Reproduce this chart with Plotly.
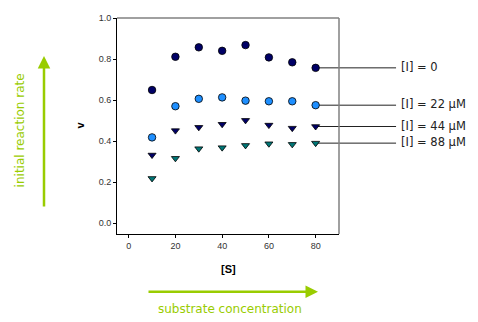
import plotly.graph_objects as go

S = [10, 20, 30, 40, 50, 60, 70, 80]
v_I0 = [0.649, 0.811, 0.857, 0.840, 0.868, 0.808, 0.784, 0.757]
v_I22 = [0.418, 0.570, 0.606, 0.613, 0.597, 0.594, 0.594, 0.575]
v_I44 = [0.332, 0.451, 0.467, 0.482, 0.501, 0.478, 0.463, 0.471]
v_I88 = [0.218, 0.316, 0.363, 0.368, 0.379, 0.387, 0.384, 0.390]
labels = ["[I] = 0", "[I] = 22 \u03bcM", "[I] = 44 \u03bcM", "[I] = 88 \u03bcM"]
x_ticks = [0, 20, 40, 60, 80]
y_ticks = [0.0, 0.2, 0.4, 0.6, 0.8, 1.0]

series = [
    (v_I0, "circle", "#000066", 7.5),
    (v_I22, "circle", "#1E8FFF", 7.5),
    (v_I44, "triangle-down", "#000066", 7),
    (v_I88, "triangle-down", "#007777", 7),
]

XR = [-5, 90]
YR = [-0.053, 1.0]

fig = go.Figure()
for (vals, sym, col, sz), lab in zip(series, labels):
    fig.add_trace(go.Scatter(
        x=S, y=vals, mode="markers", name=lab, cliponaxis=False,
        marker=dict(symbol=sym, size=sz, color=col, line=dict(color="black", width=0.8)),
    ))

GREEN = "#99CC00"
shapes = []
annotations = []
# plot frame top/right in gray
shapes.append(dict(type="line", xref="paper", yref="paper", x0=0, x1=1, y0=1, y1=1,
                   line=dict(color="#808080", width=1.5)))
shapes.append(dict(type="line", xref="paper", yref="paper", x0=1, x1=1, y0=0, y1=1,
                   line=dict(color="#808080", width=1.5)))

# leader lines from last point to labels
for (vals, sym, col, sz), lab in zip(series, labels):
    xp = (S[-1] - XR[0]) / (XR[1] - XR[0])
    yp = (vals[-1] - YR[0]) / (YR[1] - YR[0])
    shapes.append(dict(type="line", xref="paper", yref="paper", x0=xp, x1=1.257,
                       y0=yp, y1=yp, layer="below", line=dict(color="#222222", width=1)))
    annotations.append(dict(xref="paper", yref="paper", x=1.27, y=yp + 0.004, text=lab,
                            showarrow=False, xanchor="left", yanchor="middle",
                            font=dict(family="DejaVu Sans", size=11.5, color="#222222")))

# axis titles
annotations.append(dict(xref="paper", yref="paper", x=(80 - 117) / 222, y=(234 - 123) / 221,
                        text="<b>v</b>", showarrow=False, textangle=-90,
                        xanchor="center", yanchor="middle",
                        font=dict(family="Arial", size=11, color="black")))
annotations.append(dict(xref="paper", yref="paper", x=(228 - 117) / 222, y=(234 - 270) / 221,
                        text="<b>[S]</b>", showarrow=False,
                        xanchor="center", yanchor="middle",
                        font=dict(family="Arial", size=11, color="black")))

# green arrows and texts
annotations.append(dict(xref="paper", yref="paper", x=(44 - 117) / 222, y=(234 - 52) / 221,
                        text="", showarrow=True, ax=0, ay=152, arrowhead=2, arrowsize=1,
                        arrowwidth=2.5, arrowcolor=GREEN))
annotations.append(dict(xref="paper", yref="paper", x=(318 - 117) / 222, y=(234 - 293) / 221,
                        text="", showarrow=True, ax=-171, ay=0, arrowhead=2, arrowsize=1,
                        arrowwidth=2.5, arrowcolor=GREEN))
annotations.append(dict(xref="paper", yref="paper", x=(20 - 117) / 222, y=(234 - 128) / 221,
                        text="initial reaction rate", showarrow=False, textangle=-90,
                        xanchor="center", yanchor="middle",
                        font=dict(family="DejaVu Sans", size=12, color=GREEN)))
annotations.append(dict(xref="paper", yref="paper", x=(230 - 117) / 222, y=(234 - 311) / 221,
                        text="substrate concentration", showarrow=False,
                        xanchor="center", yanchor="middle",
                        font=dict(family="DejaVu Sans", size=12, color=GREEN)))

fig.update_layout(
    width=470, height=314,
    margin=dict(l=109, r=139, t=5, b=88),
    paper_bgcolor="white", plot_bgcolor="white",
    showlegend=False,
    shapes=shapes, annotations=annotations,
    font=dict(family="Arial", size=9, color="#333333"),
)
fig.update_xaxes(range=XR, tickvals=x_ticks, ticktext=[str(t) for t in x_ticks],
                 showgrid=False, zeroline=False, showline=True, linecolor="black",
                 linewidth=1, ticks="outside", ticklen=3, tickcolor="black",
                 tickfont=dict(family="Arial", size=9, color="#333333"))
fig.update_yaxes(range=YR, tickvals=y_ticks, ticktext=[f"{t:.1f}" for t in y_ticks],
                 showgrid=False, zeroline=False, showline=True, linecolor="black",
                 linewidth=1, ticks="outside", ticklen=3, tickcolor="black",
                 tickfont=dict(family="Arial", size=9, color="#333333"))

fig.write_html("out.html")
